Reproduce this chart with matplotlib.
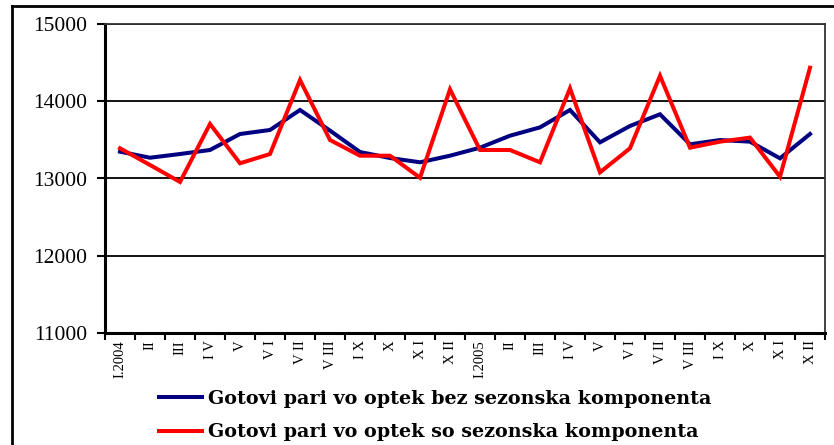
import matplotlib
matplotlib.use("Agg")
import matplotlib.pyplot as plt
from matplotlib.lines import Line2D
import numpy as np

months = ["I.2004", "II", "III", "I V", "V", "V I", "V II", "V III", "I X", "X", "X I", "X II",
          "I.2005", "II", "III", "I V", "V", "V I", "V II", "V III", "I X", "X", "X I", "X II"]
seasonally_adjusted = [13347, 13269, 13317, 13369, 13576, 13628, 13887, 13620, 13343, 13265, 13210, 13295,
                       13399, 13554, 13662, 13887, 13468, 13680, 13831, 13443, 13498, 13477, 13261, 13576]
original = [13391, 13175, 12955, 13706, 13197, 13317, 14275, 13498, 13295, 13295, 13010, 14154,
            13369, 13369, 13210, 14167, 13080, 13391, 14330, 13399, 13477, 13529, 13023, 14434]
yticks = [11000, 12000, 13000, 14000, 15000]
label_blue = "Gotovi pari vo optek bez sezonska komponenta"
label_red = "Gotovi pari vo optek so sezonska komponenta"

W, H = 834, 445
fig = plt.figure(figsize=(W / 100, H / 100), dpi=100)
ax = fig.add_axes([105 / W, 1 - 333 / H, 720 / W, 309 / H])

x = np.arange(len(months))
ax.plot(x, seasonally_adjusted, color="#000080", lw=2.9, solid_joinstyle="miter", zorder=3)
ax.plot(x, original, color="#ff0000", lw=2.9, solid_joinstyle="miter", zorder=4)

ax.set_xlim(-0.5, len(months) - 0.5)
ax.set_ylim(11000, 15000)
ax.set_yticks(yticks)
ax.set_yticklabels([str(v) for v in yticks], fontfamily="Liberation Serif", fontsize=15.5)
for v in yticks[1:]:
    ax.axhline(v, color="black", lw=1.3, zorder=1)

ax.set_xticks(x)
ax.set_xticklabels(months, rotation=90, fontfamily="Liberation Serif", fontsize=10.5, va="top")
ax.tick_params(axis="x", length=0, pad=5)
ax.set_xticks(np.arange(-0.5, len(months)), minor=True)
ax.tick_params(axis="x", which="minor", length=5, width=1.5, direction="out")
ax.tick_params(axis="y", length=6, width=1.5, direction="out", pad=7)

for s in ["left", "bottom"]:
    ax.spines[s].set_linewidth(2.2)
    ax.spines[s].set_color("black")
for s in ["right", "top"]:
    ax.spines[s].set_linewidth(1.3)
    ax.spines[s].set_color("#333333")

# outer frame (left and top edges visible)
fig.add_artist(Line2D([12 / W, 12 / W], [0, 1 - 6 / H], color="black", lw=2, transform=fig.transFigure))
fig.add_artist(Line2D([12 / W, 1], [1 - 6 / H, 1 - 6 / H], color="black", lw=2, transform=fig.transFigure))

handles = [Line2D([], [], color="#000080", lw=2.9), Line2D([], [], color="#ff0000", lw=2.9)]
fig.legend(handles, [label_blue, label_red], loc="upper left", bbox_to_anchor=(159 / W, 1 - 390 / H),
           frameon=False, prop={"family": "DejaVu Serif", "weight": "bold", "size": 13.8},
           handlelength=2.25, handletextpad=0.3, labelspacing=0.8, borderaxespad=0, borderpad=0)

fig.savefig("out.png", dpi=100)
